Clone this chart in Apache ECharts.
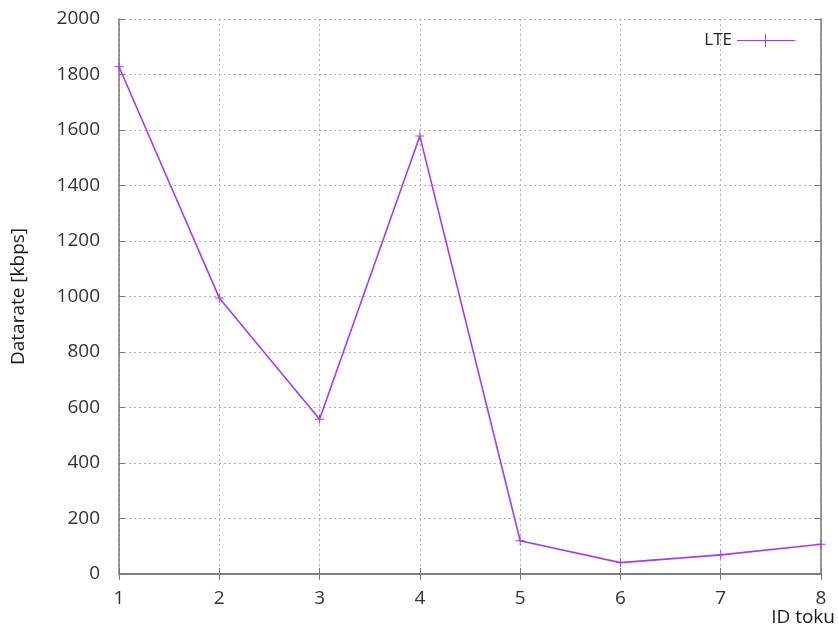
<!DOCTYPE html>
<html>
<head>
<meta charset="utf-8">
<script src="https://cdn.jsdelivr.net/npm/echarts@6/dist/echarts.min.js"></script>
<style>html,body{margin:0;padding:0;background:#fff}#c{width:838px;height:633px}</style>
</head>
<body>
<div id="c"></div>
<script>
const categories = [1, 2, 3, 4, 5, 6, 7, 8];
const lteValues = [1828, 995, 558, 1578, 120, 41, 69, 107];
const yTicks = [0, 200, 400, 600, 800, 1000, 1200, 1400, 1600, 1800, 2000];

const chart = echarts.init(document.getElementById('c'));
const font = 'Open Sans, Liberation Sans, sans-serif';
const frame = {show: true, lineStyle: {color: '#777', width: 1.5}};
const grid = {show: true, lineStyle: {color: '#b0b0b0', type: [2, 3], width: 1}};
chart.setOption({
  animation: false,
  backgroundColor: '#fff',
  grid: {left: 119, right: 17, top: 19, bottom: 59, containLabel: false, outerBoundsMode: 'none'},
  legend: {
    show: true, right: 38, top: 27, itemWidth: 58, itemHeight: 14, itemGap: 10,
    align: 'right',
    textStyle: {fontFamily: font, fontSize: 17, color: '#222'},
    data: [{name: 'LTE', icon: 'path://M0,6 L58,6 L58,7 L0,7 Z M28,0 L29,0 L29,13 L28,13 Z'}]
  },
  xAxis: [{
    type: 'value', min: 1, max: 8, interval: 1,
    name: 'ID toku', nameLocation: 'end', nameGap: 0,
    nameTextStyle: {fontFamily: font, fontSize: 19, color: '#1a1a1a', align: 'right', verticalAlign: 'top', padding: [34, -14, 0, 0]},
    axisLine: frame, axisTick: {show: true, inside: true, length: 6, lineStyle: {color: '#777'}},
    axisLabel: {fontFamily: font, fontSize: 19, color: '#333', margin: 15},
    splitLine: grid
  }, {
    type: 'value', position: 'top', min: 1, max: 8, interval: 1,
    axisLine: frame, axisTick: {show: true, inside: true, length: 6, lineStyle: {color: '#777'}},
    axisLabel: {show: false}, splitLine: {show: false}
  }],
  yAxis: [{
    type: 'value', min: 0, max: 2000, interval: 200,
    name: 'Datarate [kbps]', nameLocation: 'middle', nameGap: 91,
    nameTextStyle: {fontFamily: font, fontSize: 19, color: '#1a1a1a'},
    axisLine: frame, axisTick: {show: true, inside: true, length: 6, lineStyle: {color: '#777'}},
    axisLabel: {fontFamily: font, fontSize: 19, color: '#333', margin: 19,
      formatter: v => yTicks.includes(v) ? String(v) : ''},
    splitLine: grid
  }, {
    type: 'value', position: 'right', min: 0, max: 2000, interval: 200,
    axisLine: frame, axisTick: {show: true, inside: true, length: 6, lineStyle: {color: '#777'}},
    axisLabel: {show: false}, splitLine: {show: false}
  }],
  series: [{
    name: 'LTE', type: 'line',
    data: categories.map((c, i) => [c, lteValues[i]]),
    xAxisIndex: 0, yAxisIndex: 0,
    color: '#a83ce8',
    lineStyle: {color: '#a83ce8', width: 1.6},
    symbol: 'path://M0,4 L9,4 L9,5 L0,5 Z M4,0 L5,0 L5,9 L4,9 Z',
    symbolSize: 9, showSymbol: true,
    itemStyle: {color: '#a83ce8'},
    clip: false
  }]
});
</script>
</body>
</html>
